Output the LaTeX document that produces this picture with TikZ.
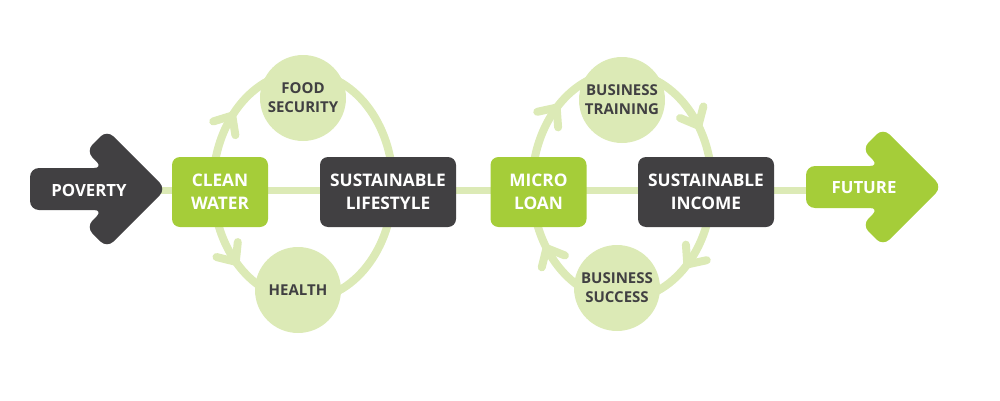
\documentclass[tikz,border=0pt]{standalone}
\usepackage{fontspec}
\setmainfont{Open Sans}
\usetikzlibrary{decorations.markings}

\definecolor{slate}{RGB}{65,64,66}
\definecolor{leaf}{RGB}{165,205,57}
\definecolor{pale}{RGB}{220,234,182}

\newcommand{\bigarrow}[3]{% colour, left end, mid height
  \fill[#1,rounded corners=9pt] (#2,#3+21) -- ++(73,0) -- ++(-17,17) -- ++(21,21)
    -- ++(59,-59) -- ++(-59,-59) -- ++(-21,21) -- ++(17,17) -- ++(-73,0) -- cycle;}
% chevrons on the loops: along the path, or against it
\newcommand{\barbfwd}{\draw[barbline] (-15pt,13pt) -- (0pt,0pt) -- (-15pt,-13pt);}
\newcommand{\barbback}{\draw[barbline] (15pt,13pt) -- (0pt,0pt) -- (15pt,-13pt);}

\begin{document}
\begin{tikzpicture}[x=1pt,y=1pt,
    box/.style={rounded corners=8pt,minimum height=70pt,inner sep=0pt,align=center,
      text=white,font=\bfseries\fontsize{17.3}{22.7}\selectfont},
    greenbox/.style={box,fill=leaf,minimum width=96pt},
    darkbox/.style={box,fill=slate,minimum width=136pt},
    bubble/.style={circle,fill=pale,minimum size=86pt,inner sep=0pt,align=center,
      text=slate,font=\bfseries\fontsize{15}{19}\selectfont},
    arrowlabel/.style={text=white,font=\bfseries\fontsize{16.8}{22}\selectfont},
    spine/.style={pale,line width=7pt},
    loopline/.style={pale,line width=8pt,postaction={decorate}},
    barbline/.style={pale,line width=8pt,line cap=round,line join=round}]
  \useasboundingbox (0,0) rectangle (1000,400);

  \coordinate (povtip) at (158,210);
  \coordinate (futback) at (820,210);
  \coordinate (lefthub) at (303,214);
  \coordinate (righthub) at (622,214);

  \draw[spine] (povtip) -- (futback);
  \draw[loopline,decoration={markings,
      mark=at position 0.385 with {\barbback},
      mark=at position 0.625 with {\barbfwd}}]
    (lefthub) ellipse [x radius=90,y radius=114];
  \draw[loopline,decoration={markings,
      mark=at position 0.097 with {\barbback},
      mark=at position 0.37 with {\barbback},
      mark=at position 0.60 with {\barbback},
      mark=at position 0.87 with {\barbback}}]
    (righthub) ellipse [x radius=90,y radius=114];

  \bigarrow{slate}{30}{211}
  \bigarrow{leaf}{806}{213}
  \node[arrowlabel] (poverty) at (89,210) {POVERTY};
  \node[arrowlabel] (future) at (864,212) {FUTURE};

  \node[greenbox] (clean) at (220,208) {CLEAN\\WATER};
  \node[darkbox] (lifestyle) [right of=clean,node distance=168pt] {SUSTAINABLE\\LIFESTYLE};
  \node[greenbox] (micro) [right of=lifestyle,node distance=150.5pt] {MICRO\\LOAN};
  \node[darkbox] (income) [right of=micro,node distance=167.5pt] {SUSTAINABLE\\INCOME};

  \node[bubble] (food) at (303,302) {FOOD\\SECURITY};
  \node[bubble] (health) at (298,110) {HEALTH};
  \node[bubble] (training) at (622,300) {BUSINESS\\TRAINING};
  \node[bubble] (success) at (617,112) {BUSINESS\\SUCCESS};
\end{tikzpicture}
\end{document}
